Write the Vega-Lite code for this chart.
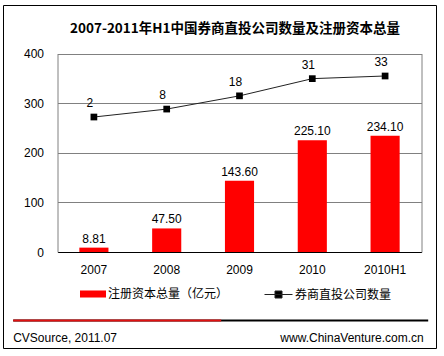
{
  "$schema": "https://vega.github.io/schema/vega-lite/v6.json",
  "width": 433,
  "height": 343,
  "autosize": {"type": "none"},
  "padding": {"left": 3, "top": 5, "right": 8, "bottom": 8},
  "background": "white",
  "title": {
    "text": "2007-2011年H1中国券商直投公司数量及注册资本总量",
    "font": "Noto Sans CJK SC",
    "fontSize": 13.5,
    "fontWeight": "bold",
    "color": "black",
    "anchor": "middle",
    "frame": "group",
    "baseline": "middle",
    "dx": 15.5,
    "offset": -37
  },
  "config": {
    "view": {"stroke": "black", "strokeWidth": 1},
    "axis": {"labelFont": "Liberation Sans", "labelFontSize": 12, "labelColor": "black", "title": null},
    "legend": {"padding": 0, "labelFont": "Noto Sans CJK SC", "labelFontSize": 12, "labelColor": "black", "title": null}
  },
  "layer": [
    {
      "data": {
        "values": [
          {"year": "2007", "capital": 8.81, "count": 2},
          {"year": "2008", "capital": 47.5, "count": 8},
          {"year": "2009", "capital": 143.6, "count": 18},
          {"year": "2010", "capital": 225.1, "count": 31},
          {"year": "2010H1", "capital": 234.1, "count": 33}
        ]
      },
      "encoding": {
        "x": {
          "field": "year",
          "type": "nominal",
          "sort": null,
          "scale": {"range": [54.5, 418.5], "paddingInner": 0.6, "paddingOuter": 0.3},
          "axis": {
            "orient": "bottom",
            "offset": -96,
            "domainColor": "black",
            "ticks": false,
            "grid": false,
            "labelAngle": 0,
            "labelPadding": 12
          }
        }
      },
      "layer": [
        {
          "encoding": {
            "y": {
              "field": "capital",
              "type": "quantitative",
              "scale": {"domain": [0, 400], "range": [247, 48.5], "nice": false},
              "axis": {
                "orient": "left",
                "offset": -54.5,
                "values": [0, 100, 200, 300, 400],
                "grid": true,
                "gridColor": "#808080",
                "ticks": false,
                "domain": true,
                "domainColor": "#808080",
                "labelPadding": 14
              }
            }
          },
          "layer": [
            {
              "mark": {"type": "bar"},
              "encoding": {
                "fill": {
                  "datum": "注册资本总量（亿元）",
                  "type": "nominal",
                  "scale": {"range": ["#ff0000"]},
                  "legend": {
                    "orient": "none",
                    "legendX": 77,
                    "legendY": 276,
                    "symbolType": "M-1,-0.27H1V0.27H-1Z",
                    "symbolSize": 676,
                    "symbolStrokeWidth": 0,
                    "labelOffset": 2
                  }
                }
              }
            },
            {
              "mark": {"type": "text", "baseline": "bottom", "dy": -2, "font": "Liberation Sans", "fontSize": 12, "color": "black"},
              "encoding": {"text": {"field": "capital", "type": "quantitative", "format": ".2f"}}
            }
          ]
        },
        {
          "encoding": {
            "y": {
              "field": "count",
              "type": "quantitative",
              "scale": {"domain": [-100, 50], "range": [247, 48.5], "nice": false, "zero": false},
              "axis": {
                "orient": "right",
                "offset": -14.5,
                "labels": false,
                "ticks": false,
                "grid": false,
                "domain": true,
                "domainColor": "#808080"
              }
            }
          },
          "layer": [
            {
              "mark": {"type": "line", "strokeWidth": 1},
              "encoding": {
                "stroke": {
                  "datum": "券商直投公司数量",
                  "type": "nominal",
                  "scale": {"range": ["#222222"]},
                  "legend": {
                    "orient": "none",
                    "legendX": 261,
                    "legendY": 275,
                    "symbolType": "M-1,0H1M-0.25,-0.25H0.25V0.25H-0.25Z",
                    "symbolSize": 784,
                    "symbolStrokeWidth": 1,
                    "symbolFillColor": "black",
                    "symbolStrokeColor": "black",
                    "labelOffset": 2
                  }
                }
              }
            },
            {
              "mark": {"type": "point", "shape": "square", "filled": true, "size": 45, "color": "black", "opacity": 1}
            },
            {
              "mark": {"type": "text", "baseline": "middle", "dx": -4, "dy": -14, "font": "Liberation Sans", "fontSize": 12, "color": "black"},
              "encoding": {"text": {"field": "count", "type": "quantitative"}}
            }
          ]
        }
      ],
      "resolve": {"scale": {"y": "independent"}, "axis": {"y": "independent"}}
    },
    {
      "data": {"values": [{"src": "CVSource, 2011.07"}, {"src": "www.ChinaVenture.com.cn"}]},
      "mark": {"type": "point", "opacity": 0},
      "encoding": {
        "x": {
          "field": "src",
          "type": "nominal",
          "sort": null,
          "scale": {"type": "point", "range": [9.7, 424.7], "padding": 0},
          "axis": {
            "orient": "bottom",
            "offset": -28,
            "domainColor": "black",
            "domainWidth": 2,
            "ticks": false,
            "grid": false,
            "labelAngle": 0,
            "labelPadding": 12,
            "labelAlign": {"condition": {"test": "datum.index === 0", "value": "left"}, "value": "right"},
            "labelOffset": {"condition": {"test": "datum.index === 0", "value": 0}, "value": -4.5},
            "labelOverlap": false,
            "labelBound": false
          }
        }
      }
    },
    {
      "data": {"values": [{"src": "CVSource, 2011.07"}, {"src": "www.ChinaVenture.com.cn"}]},
      "mark": {"type": "point", "opacity": 0},
      "encoding": {
        "x": {
          "field": "src",
          "type": "nominal",
          "sort": null,
          "scale": {"type": "point", "range": [9.7, 424.7], "padding": 0},
          "axis": {
            "orient": "bottom",
            "offset": -28,
            "domainColor": "#e01010",
            "domainWidth": 2,
            "domainDash": [208, 1000],
            "ticks": false,
            "grid": false,
            "labels": false,
            "zindex": 2
          }
        }
      }
    }
  ],
  "resolve": {"scale": {"x": "independent"}, "axis": {"x": "independent"}}
}
